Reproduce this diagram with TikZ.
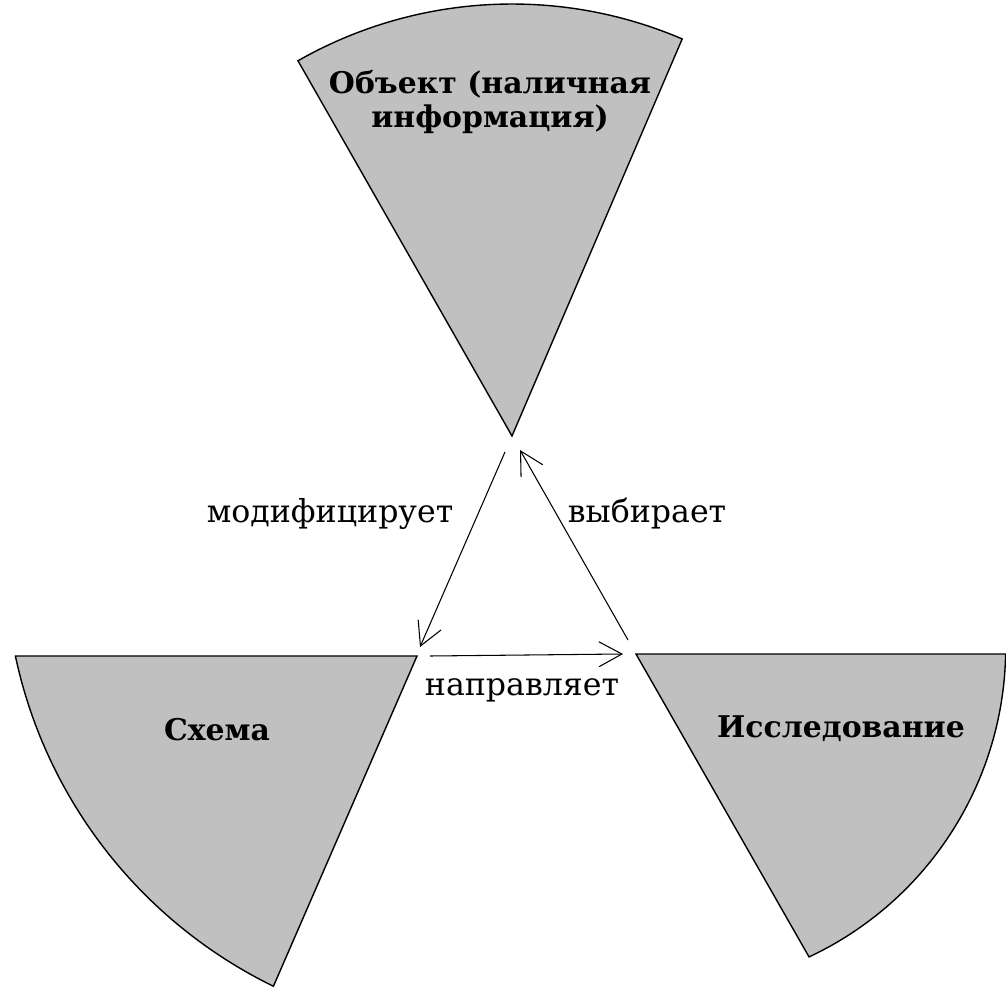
\documentclass[tikz,border=0pt]{standalone}
\usepackage{fontspec}
\setmainfont{DejaVu Serif}
\usetikzlibrary{arrows.meta}
\definecolor{sectgray}{RGB}{192,192,192}
\begin{document}
\begin{tikzpicture}[x=0.02cm,y=0.02cm,
  sector/.style={fill=sectgray, draw=black, line width=0.8pt, line join=miter},
  conn/.style={line width=0.6pt, -{Straight Barb[length=0.46cm,width=0.5cm,line width=0.6pt]}},
  title/.style={font=\fontsize{17}{19}\selectfont\bfseries, align=center, inner sep=0pt},
  lbl/.style={font=\fontsize{18}{20}\selectfont, inner sep=0pt, anchor=base}]
\useasboundingbox (0,0) rectangle (1006,991);

% apexes
\coordinate (topApex) at (512,555);
\coordinate (leftApex) at (417,335);
\coordinate (rightApex) at (636,337);

% sectors
\path[sector] (topApex) -- ++(119.7:432) arc[start angle=119.7, end angle=66.8, radius=432] -- cycle;
\path[sector] (leftApex) -- (15.4,335) arc[start angle=192, end angle=244, radius=478] -- cycle;
\path[sector] (rightApex) -- (1005.6,337) arc[start angle=-1.06, end angle=-64.9, radius=341.5] -- cycle;

% sector titles
\node[title] (obj) at (490,889) {Объект (наличная\\информация)};
\node[title, anchor=base] (schema) at (217,251) {Схема};
\node[title, anchor=base] (issl) at (841,254) {Исследование};

% connector ends
\coordinate (modS) at (505,539);
\coordinate (modE) at (420,344);
\coordinate (selS) at (628,351);
\coordinate (selE) at (520,541);
\coordinate (dirS) at (430,335);
\coordinate (dirE) at (623,337);

\draw[conn] (modS) -- (modE);
\draw[conn] (selS) -- (selE);
\draw[conn] (dirS) -- (dirE);

% connector labels
\node[lbl] (modL) at (330,469) {модифицирует};
\node[lbl] (selL) at (647,469) {выбирает};
\node[lbl] (dirL) at (522,296) {направляет};
\end{tikzpicture}
\end{document}
